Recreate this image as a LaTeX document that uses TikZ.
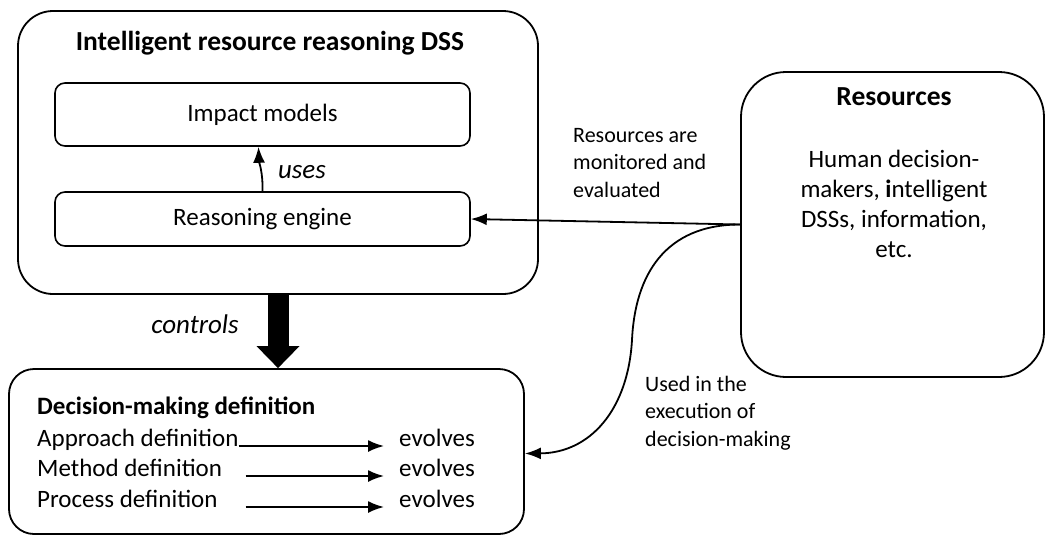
\documentclass[tikz,border=0pt]{standalone}
\usepackage{fontspec}
\setmainfont{Carlito}
\usetikzlibrary{arrows.meta}

\begin{document}
\begin{tikzpicture}[x=1pt,y=-1pt]
\tikzset{bigbox/.style={draw, line width=1.8pt, rounded corners=35pt},
  smallbox/.style={draw, line width=1.6pt, rounded corners=10pt, minimum width=415pt},
  txt/.style={font=\fontsize{25}{30}\selectfont},
  head/.style={font=\fontsize{27.5}{32}\selectfont\bfseries},
  lbl/.style={font=\fontsize{22}{27.5}\selectfont, align=left, anchor=north west, inner sep=0pt},
  verb/.style={font=\fontsize{27}{30}\selectfont\itshape},
  deftxt/.style={txt, anchor=base west, inner sep=0pt},
  arr/.style={line width=1.8pt, -{Latex[length=16pt,width=12pt]}}}
\useasboundingbox (0,0) rectangle (1045,536);
% the DSS and its two parts
\node[bigbox, minimum width=520pt, minimum height=283pt] (dss) at (278,152.5) {};
\node[head, anchor=base] (dsstitle) at (270,50) {Intelligent resource reasoning DSS};
\node[smallbox, txt, minimum height=63pt] (impact) at (262.5,114.5) {Impact models};
\node[smallbox, txt, minimum height=54pt] (engine) at (262.5,219) {Reasoning engine};
\draw[arr] (engine.north) .. controls (263,172) and (259,162) .. ([xshift=-4pt]impact.south);
\node[verb] (useslbl) at (302,172) {uses};
% resources
\node[bigbox, rounded corners=45pt, minimum width=303pt, minimum height=305pt] (res) at (892.5,224.5) {};
\node[head, anchor=base] (restitle) at (894,105) {Resources};
\node[txt, align=center, anchor=north, inner sep=0pt] (resbody) at (894,150)
  {Human decision-\\makers, \textbf{i}ntelligent\\DSSs, information,\\etc.};
% decision-making definition
\node[bigbox, rounded corners=25pt, minimum width=515pt, minimum height=165pt] (dec) at (266.5,451.5) {};
\node[deftxt] (dectitle) at (37,414) {\textbf{Decision-making definition}};
\node[deftxt] (appr) at (37,446) {Approach definition};
\node[deftxt] (meth) at (37,476) {Method definition};
\node[deftxt] (proc) at (37,507) {Process definition};
\node[deftxt] (evo1) at (399,446) {evolves};
\node[deftxt] (evo2) at (399,476) {evolves};
\node[deftxt] (evo3) at (399,507) {evolves};
\draw[arr, shorten >=15pt] (appr.base east) -- (evo1.base west);
\draw[arr, shorten <=7pt, shorten >=15pt] (appr.base east |- meth.base) -- (evo2.base west);
\draw[arr, shorten <=7pt, shorten >=15pt] (appr.base east |- proc.base) -- (evo3.base west);
% controls
\draw[line width=21pt, -{Triangle[length=22pt,width=43pt,line width=0pt]}] (dss.south) -- (dss.south |- dec.north);
\node[verb] (ctrllbl) at (195,324) {controls};
% links from the resources
\draw[arr] (res.west) -- (engine.east);
\draw[arr] (res.west) .. controls (665,224.5) and (635,275) .. (632,340)
  .. controls (628,410) and (590,453) .. ([yshift=-2pt]dec.east);
\node[lbl] (monlbl) at (573,128) {Resources are\\monitored and\\evaluated};
\node[lbl] (usedlbl) at (645,376) {Used in the\\execution of\\decision-making};
\end{tikzpicture}
\end{document}
